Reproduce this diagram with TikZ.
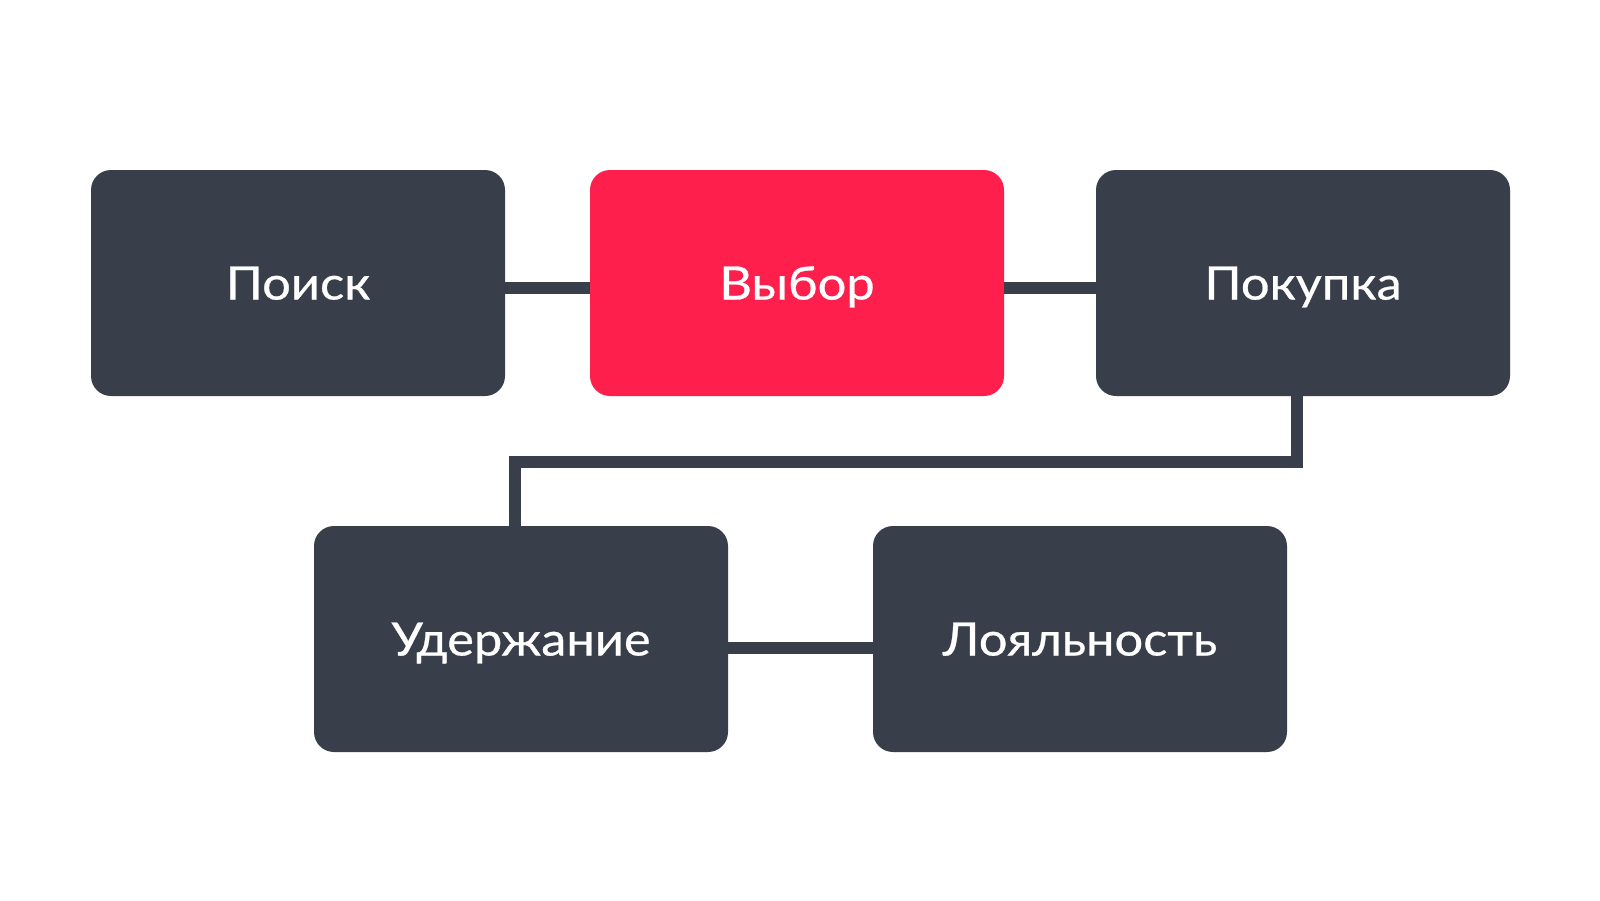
\documentclass[tikz,border=0pt]{standalone}
\usepackage{fontspec}
\setmainfont{Lato}[FakeStretch=1.1, FakeBold=0.6]
\definecolor{boxdark}{HTML}{393F4A}
\definecolor{boxred}{HTML}{FF1F4C}
\begin{document}
\begin{tikzpicture}[x=0.5pt,y=-0.5pt,
  stage/.style={rectangle, rounded corners=10pt, minimum width=207pt, minimum height=113pt,
    inner sep=0pt, text=white, fill=boxdark, font=\fontsize{23}{23}\selectfont,
    text height=16.5pt, text depth=0pt},
  hot/.style={stage, fill=boxred},
  conn/.style={draw=boxdark, line width=6pt, line join=miter}
]
\fill[white] (0,0) rectangle (1600,900);
\useasboundingbox (0,0) rectangle (1600,900);

\node[stage] (poisk) at (298,283) {Поиск};
\node[hot]   (vybor) at (797,283) {Выбор};
\node[stage] (pokupka) at (1303,283) {Покупка};
\node[stage] (uderzh) at (521,639) {Удержание};
\node[stage] (loyal) at (1080,639) {Лояльность};

\draw[conn] ([yshift=-2.5pt]poisk.east) -- ([yshift=-2.5pt]vybor.west);
\draw[conn] ([yshift=-2.5pt]vybor.east) -- ([yshift=-2.5pt]pokupka.west);
\draw[conn] ([yshift=-4.5pt]uderzh.east) -- ([yshift=-4.5pt]loyal.west);
\draw[conn] ([xshift=-3pt]pokupka.south) -- ++(0,66) -| ([xshift=-3.25pt]uderzh.north);
\end{tikzpicture}
\end{document}
